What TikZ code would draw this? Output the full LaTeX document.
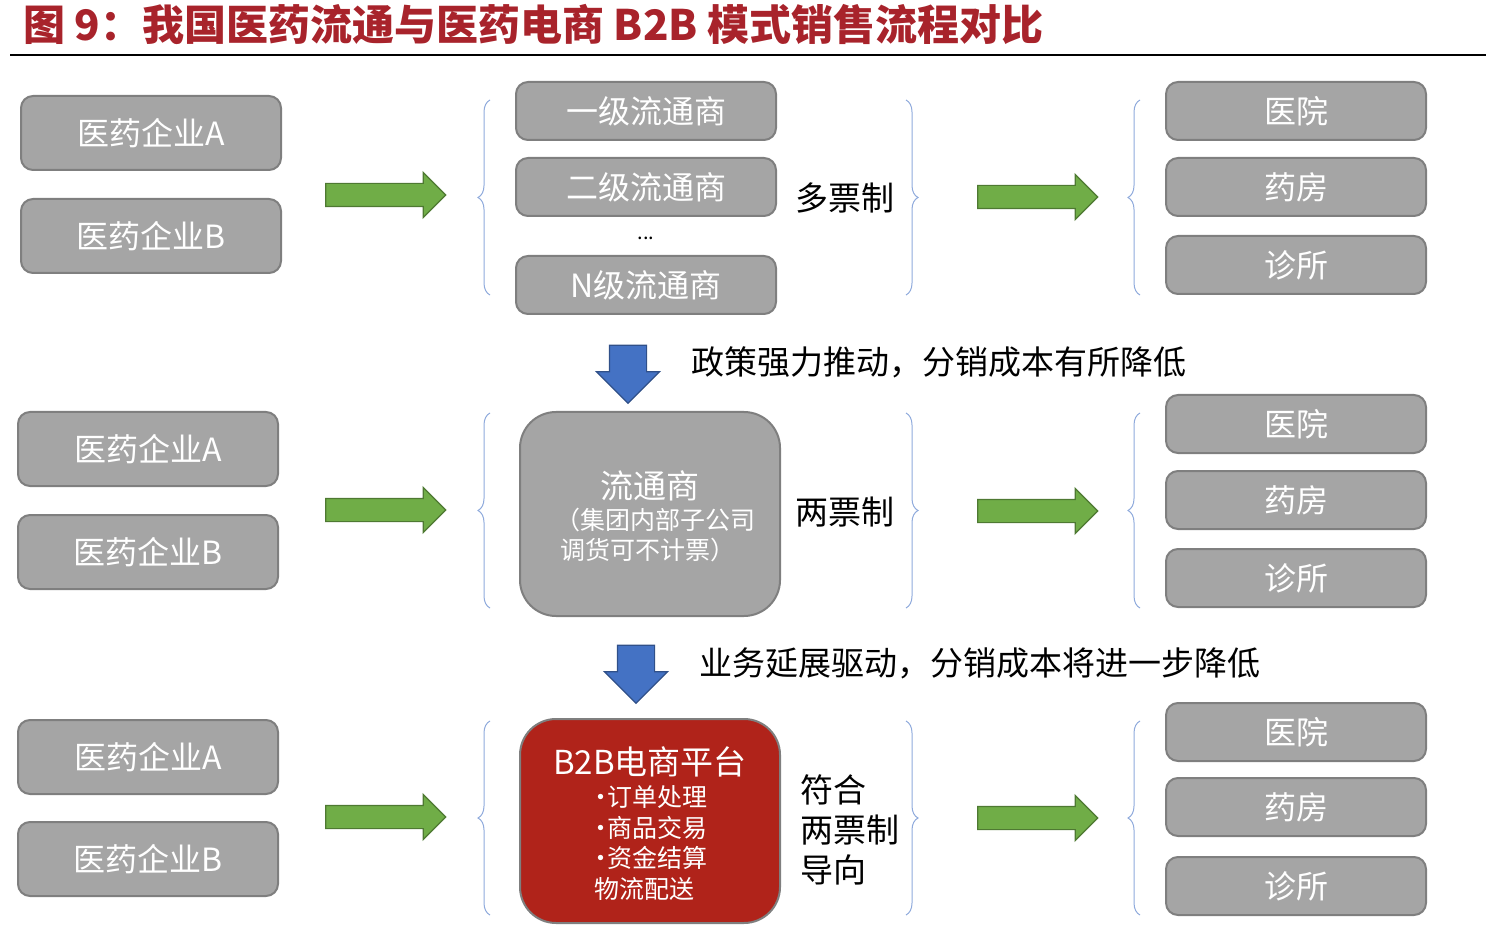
\documentclass[tikz,border=0pt]{standalone}
\usepackage{fontspec}
\setmainfont{Noto Sans CJK SC}
\usetikzlibrary{shapes.arrows}
\usetikzlibrary{decorations.pathreplacing}
\definecolor{boxgray}{HTML}{A5A5A5}
\definecolor{boxline}{HTML}{7F7F7F}
\definecolor{arrgreen}{HTML}{70AD47}
\definecolor{arrblue}{HTML}{4472C4}
\definecolor{platred}{HTML}{B0231A}
\definecolor{titlered}{HTML}{A8232B}
\definecolor{bracecol}{HTML}{8FAADC}
\tikzset{
  gbox/.style={draw=boxline, fill=boxgray, rounded corners=6, line width=1, text=white, minimum width=130, minimum height=29, font=\fontsize{16}{18}\selectfont},
  ebox/.style={gbox, minimum height=37},
  garrow/.style={single arrow, draw=arrgreen!70!black, fill=arrgreen, inner sep=5.5pt, minimum height=60, single arrow head extend=5.5pt, single arrow tip angle=90, line width=0.6},
  barrow/.style={single arrow, draw=arrblue!70!black, fill=arrblue, inner sep=9pt, minimum height=29, single arrow head extend=6.5pt, shape border rotate=270, line width=0.6},
  brc/.style={draw=bracecol, line width=0.5, decorate, decoration={brace, amplitude=6}},
  lbl/.style={font=\fontsize{16.5}{18}\selectfont, align=left}
}
\begin{document}
\begin{tikzpicture}[x=0.5pt, y=-0.5pt]
\useasboundingbox (0,0) rectangle (1486,940);
\node[anchor=west, text=titlered, font=\bfseries\fontsize{21}{22}\selectfont] (title) at (16,24) {图 9：我国医药流通与医药电商 B2B 模式销售流程对比};
\draw[line width=1] (10,55) -- (1486,55);

% row 1
\node[ebox] (a1) at (151,133) {医药企业A};
\node[ebox] (b1) at (151,236) {医药企业B};
\node[garrow] (g1) at (380,195) {};
\node[gbox] (d11) at (646,111) {一级流通商};
\node[gbox] (d12) at (646,187) {二级流通商};
\node (dots) at (646,238) {...};
\node[gbox] (d1n) at (646,285) {N级流通商};
\draw[brc] (490,295) -- (490,100);
\draw[brc] (906,100) -- (906,295);
\node[lbl] (m1) at (845,198) {多票制};
\node[garrow] (h1) at (1032,197) {};
\draw[brc] (1140,295) -- (1140,100);
\node[gbox] (r11) at (1296,111) {医院};
\node[gbox] (r12) at (1296,187) {药房};
\node[gbox] (r13) at (1296,265) {诊所};

\node[barrow] (s1) at (628,365) {};
\node[lbl, anchor=west] (t1) at (684,362) {政策强力推动，分销成本有所降低};

% row 2
\node[ebox] (a2) at (148,449) {医药企业A};
\node[ebox] (b2) at (148,552) {医药企业B};
\node[garrow] (g2) at (380,510) {};
\node[gbox, minimum height=102, rounded corners=18] (d2) at (650,514) {};
\node[text=white, font=\fontsize{16.5}{18}\selectfont] (d2t) at (650,486) {流通商};
\node[text=white, align=left, font=\fontsize{12.5}{15}\selectfont] (d2s) at (655,535) {（集团内部子公司\\\ 调货可不计票）};
\draw[brc] (490,608) -- (490,413);
\draw[brc] (906,413) -- (906,608);
\node[lbl] (m2) at (845,512) {两票制};
\node[garrow] (h2) at (1032,511) {};
\draw[brc] (1140,608) -- (1140,413);
\node[gbox] (r21) at (1296,424) {医院};
\node[gbox] (r22) at (1296,500) {药房};
\node[gbox] (r23) at (1296,578) {诊所};

\node[barrow] (s2) at (636,665) {};
\node[lbl, anchor=west] (t2) at (692,663) {业务延展驱动，分销成本将进一步降低};

% row 3
\node[ebox] (a3) at (148,757) {医药企业A};
\node[ebox] (b3) at (148,859) {医药企业B};
\node[garrow] (g3) at (380,817) {};
\node[draw=boxline, fill=platred, rounded corners=18, line width=1, minimum width=130, minimum height=102] (d3) at (650,821) {};
\node[text=white, font=\fontsize{16.5}{18}\selectfont] (d3t) at (650,762) {B2B电商平台};
\node[text=white, align=left, font=\fontsize{12.5}{15.3}\selectfont] (d3s) at (651,843) {\kern-3pt·\kern-3pt 订单处理\\\kern-3pt·\kern-3pt 商品交易\\\kern-3pt·\kern-3pt 资金结算\\物流配送};
\draw[brc] (490,915) -- (490,721);
\draw[brc] (906,721) -- (906,915);
\node[lbl, anchor=west, font=\fontsize{16.5}{20}\selectfont] (m3) at (793,830) {符合\\两票制\\导向};
\node[garrow] (h3) at (1032,818) {};
\draw[brc] (1140,915) -- (1140,721);
\node[gbox] (r31) at (1296,732) {医院};
\node[gbox] (r32) at (1296,807) {药房};
\node[gbox] (r33) at (1296,886) {诊所};
\end{tikzpicture}
\end{document}
